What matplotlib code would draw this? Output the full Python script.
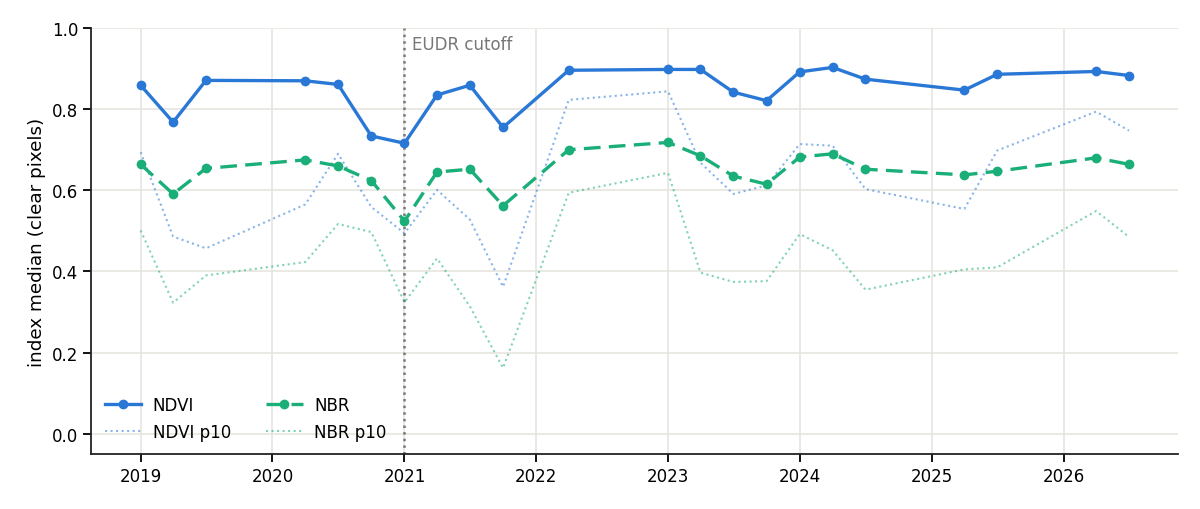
import matplotlib
matplotlib.use('Agg')
import matplotlib.pyplot as plt
import matplotlib.dates as mdates
import numpy as np
import pandas as pd

# quarterly acquisition dates
dates = ['2019-01-01', '2019-04-01', '2019-07-01', '2020-04-01', '2020-07-01', '2020-10-01',
         '2021-01-01', '2021-04-01', '2021-07-01', '2021-10-01', '2022-04-01', '2023-01-01',
         '2023-04-01', '2023-07-01', '2023-10-01', '2024-01-01', '2024-04-01', '2024-07-01',
         '2025-04-01', '2025-07-01', '2026-04-01', '2026-07-01']

ndvi = [0.859, 0.768, 0.871, 0.870, 0.861, 0.734, 0.716, 0.835, 0.859, 0.755, 0.896,
        0.898, 0.898, 0.842, 0.821, 0.892, 0.903, 0.874, 0.847, 0.886, 0.893, 0.883]
nbr = [0.664, 0.591, 0.654, 0.675, 0.660, 0.624, 0.524, 0.645, 0.652, 0.562, 0.700,
       0.718, 0.685, 0.635, 0.615, 0.682, 0.690, 0.652, 0.638, 0.647, 0.680, 0.664]
ndvi_p10 = [0.694, 0.486, 0.457, 0.565, 0.690, 0.559, 0.494, 0.601, 0.528, 0.362, 0.823,
            0.844, 0.668, 0.591, 0.612, 0.714, 0.710, 0.603, 0.554, 0.698, 0.794, 0.747]
nbr_p10 = [0.501, 0.323, 0.390, 0.423, 0.517, 0.497, 0.324, 0.432, 0.314, 0.162, 0.594,
           0.643, 0.397, 0.374, 0.376, 0.492, 0.452, 0.355, 0.405, 0.410, 0.549, 0.485]

cutoff = '2021-01-01'

blue = '#2a78d6'
green = '#1aaf78'

t = pd.to_datetime(dates)

fig = plt.figure(figsize=(12, 5.1), dpi=100)
ax = fig.add_axes([0.076, 0.108, 0.906, 0.835])

ax.plot(t, ndvi, color=blue, lw=2.4, marker='o', ms=6, label='NDVI', zorder=4)
ax.plot(t, ndvi_p10, color=blue, lw=1.5, ls=':', alpha=0.55, label='NDVI p10', zorder=3)
ax.plot(t, nbr, color=green, lw=2.4, ls='--', dashes=(5, 2.5), marker='o', ms=6,
        label='NBR', zorder=4)
ax.plot(t, nbr_p10, color=green, lw=1.5, ls=':', alpha=0.55, label='NBR p10', zorder=3)

cut = pd.Timestamp(cutoff)
ax.axvline(cut, color='#777777', lw=1.8, ls=':', zorder=2)
ax.text(cut + pd.Timedelta(days=22), 0.982, 'EUDR cutoff', color='#777777', fontsize=12,
        va='top', ha='left')

ax.set_ylim(-0.05, 1.0)
ax.set_yticks([0.0, 0.2, 0.4, 0.6, 0.8, 1.0])
ax.set_ylabel('index median (clear pixels)', fontsize=13.2)
ax.xaxis.set_major_locator(mdates.YearLocator())
ax.xaxis.set_major_formatter(mdates.DateFormatter('%Y'))
ax.tick_params(labelsize=12, length=6, width=1.3)

ax.grid(True, color='#e6e3dc', lw=1.1)
ax.set_axisbelow(True)
for s in ['top', 'right']:
    ax.spines[s].set_visible(False)
for s in ['left', 'bottom']:
    ax.spines[s].set_linewidth(1.3)
    ax.spines[s].set_color('#222222')

ax.legend(loc='lower left', ncol=2, frameon=False, fontsize=12, columnspacing=2.1,
          handlelength=2.2, handletextpad=0.7, borderaxespad=0.4)

fig.savefig('out.png', dpi=100)
